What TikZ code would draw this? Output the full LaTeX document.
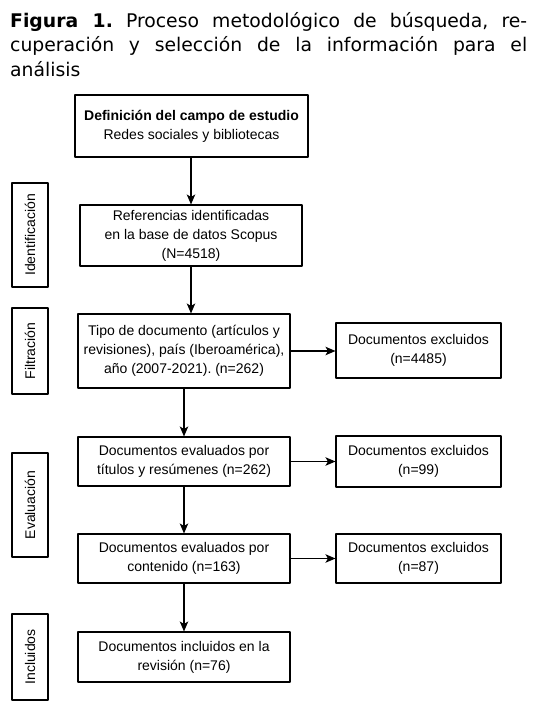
\documentclass[tikz,border=0pt]{standalone}
\usepackage{fontspec}
\setmainfont{Liberation Sans}
\newfontfamily\titlefont{DejaVu Sans}
\usetikzlibrary{arrows.meta}
\frenchspacing

\begin{document}
\begin{tikzpicture}[line cap=round,line join=round,>={Stealth[length=10pt,width=8.5pt,inset=2.5pt]},x=1pt,y=-1pt,
  box/.style={draw,line width=1.1pt,align=center,inner sep=2pt,font=\fontsize{14}{19}\selectfont},
  phase/.style={draw,line width=1.1pt,rotate=90,minimum height=36pt,inner sep=0pt,font=\fontsize{14}{17}\selectfont}]
\useasboundingbox (0,0) rectangle (543,712);
\node (title) [anchor=north west,inner sep=0pt,text width=517pt,align=justify,font=\titlefont\fontsize{18.8}{24.5}\selectfont] at (10,12) {\textbf{Figura 1.} Proceso metodológico de búsqueda, re-\linebreak cuperación y selección de la información para el\linebreak análisis};
% fases
\node (ident) [phase,minimum width=104pt] at (30,235) {Identificación};
\node (filt) [phase,minimum width=86pt] at (30,351) {Filtración};
\node (evalu) [phase,minimum width=104pt] at (30,505) {Evaluación};
\node (incl) [phase,minimum width=86pt] at (30,657) {Incluidos};
% cajas
\node (def) [box,minimum width=233pt,minimum height=62pt] at (191.5,126) {\textbf{Definición del campo de estudio}\\Redes sociales y bibliotecas};
\node (ref) [box,minimum width=222pt,minimum height=61pt] at (191,235.5) {Referencias identificadas\\en la base de datos Scopus\\(N=4518)};
\node (tipo) [box,minimum width=212pt,minimum height=74pt] at (184,351) {Tipo de documento (artículos y\\revisiones), país (Iberoamérica),\\año (2007-2021). (n=262)};
\node (exc1) [box,minimum width=165pt,minimum height=55pt] at (418.5,350.5) {Documentos excluidos\\(n=4485)};
\node (eval1) [box,minimum width=212pt,minimum height=49pt] at (184,461.5) {Documentos evaluados por\\títulos y resúmenes (n=262)};
\node (exc2) [box,minimum width=165pt,minimum height=51pt] at (418.5,461.5) {Documentos excluidos\\(n=99)};
\node (eval2) [box,minimum width=212pt,minimum height=49pt] at (184,558.5) {Documentos evaluados por\\contenido (n=163)};
\node (exc3) [box,minimum width=165pt,minimum height=49pt] at (418.5,558.5) {Documentos excluidos\\(n=87)};
\node (inc) [box,minimum width=212pt,minimum height=50pt] at (184,657) {Documentos incluidos en la\\revisión (n=76)};
% flechas
\draw [->,line width=1.1pt] (ref.north |- def.south) -- (ref.north);
\draw [->,line width=1.1pt] (ref.south) -- (ref.south |- tipo.north);
\draw [->,line width=1.1pt] (tipo) -- (eval1);
\draw [->,line width=1.1pt] (eval1) -- (eval2);
\draw [->,line width=1.1pt] (eval2) -- (inc);
\draw [->,line width=1.1pt] (tipo.east) -- (tipo.east -| exc1.west);
\draw [->,line width=1.1pt] (eval1.east) -- (eval1.east -| exc2.west);
\draw [->,line width=1.1pt] (eval2.east) -- (eval2.east -| exc3.west);
\end{tikzpicture}
\end{document}
